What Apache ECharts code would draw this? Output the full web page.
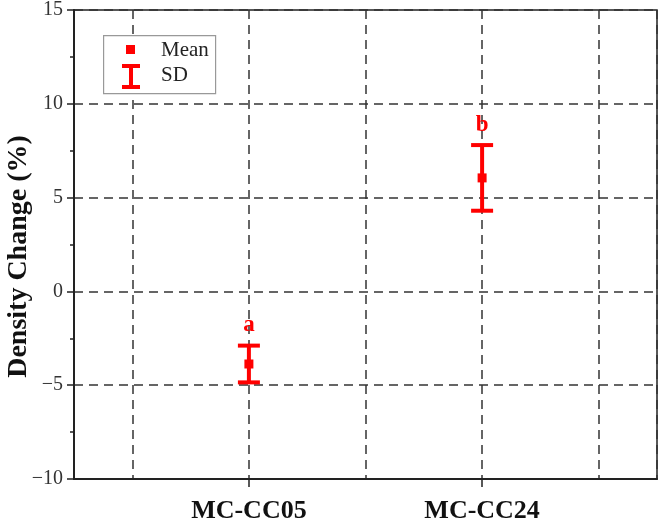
<!DOCTYPE html>
<html>
<head>
<meta charset="utf-8">
<script src="https://cdn.jsdelivr.net/npm/echarts@6/dist/echarts.min.js"></script>
<style>
    html, body { margin: 0; padding: 0; background: #fff; }
    #chart { width: 661px; height: 523px; }
</style>
</head>
<body>
<div id="chart"></div>
<script>
// groups and their x positions
const groups = ['MC-CC05', 'MC-CC24']
const groupPos = [1, 2]
// mean density change (%) and standard deviation
const means = [-3.87, 6.05]
const sds = [0.98, 1.75]
// significance letters
const letters = ['a', 'b']
// y tick labels
const yTicks = [-10, -5, 0, 5, 10, 15]

const RED = '#ff0000'
const FONT = '"Liberation Serif", "DejaVu Serif", serif'
const DASH = { color: '#333', width: 1.5, type: [9, 6] }

const meanData = groupPos.map((x, i) => [x, means[i]])
const barData = groupPos.map((x, i) => [x, means[i] - sds[i], means[i] + sds[i], i])

const chart = echarts.init(document.getElementById('chart'))

const option = {
    animation: false,
    grid: {
        left: 74,
        right: 4,
        top: 10,
        bottom: 44,
        containLabel: false,
        outerBoundsMode: 'none',
        show: true,
        borderColor: '#222',
        borderWidth: 1.5
    },
    xAxis: [
        {
            // grid lines every half step
            type: 'value',
            min: 0.25,
            max: 2.75,
            splitNumber: 5,
            axisLine: { show: false, onZero: false },
            axisTick: { show: false },
            axisLabel: { show: false },
            splitLine: { show: true, lineStyle: DASH }
        },
        {
            // ticks and labels only at the groups
            type: 'value',
            position: 'bottom',
            min: 0.25,
            max: 2.75,
            axisLine: { show: true, onZero: false, lineStyle: { color: '#222', width: 2 } },
            axisTick: {
                show: true,
                customValues: groupPos,
                length: 8,
                lineStyle: { color: '#222', width: 1.5 }
            },
            axisLabel: {
                customValues: groupPos,
                formatter: (v) => groups[groupPos.indexOf(v)] || '',
                color: '#111',
                fontFamily: FONT,
                fontWeight: 'bold',
                fontSize: 26,
                margin: 19
            },
            splitLine: { show: false }
        }
    ],
    yAxis: {
        type: 'value',
        min: yTicks[0],
        max: yTicks[yTicks.length - 1],
        interval: 5,
        name: 'Density Change (%)',
        nameLocation: 'middle',
        nameGap: 41,
        nameMoveOverlap: false,
        nameTextStyle: {
            fontFamily: FONT,
            fontWeight: 'bold',
            fontSize: 28,
            color: '#111',
            padding: [0, 24, 0, 0]
        },
        axisLine: { show: true, lineStyle: { color: '#222', width: 2 } },
        axisTick: { show: true, length: 7, lineStyle: { color: '#222', width: 1.5 } },
        minorTick: { show: true, splitNumber: 2, length: 4, lineStyle: { color: '#222', width: 1.5 } },
        axisLabel: {
            formatter: (v) => (v < 0 ? '\u2212' + Math.abs(v) : String(v)),
            color: '#333',
            fontFamily: FONT,
            fontSize: 20,
            margin: 11
        },
        splitLine: { show: true, lineStyle: DASH }
    },
    series: [
        {
            name: 'SD',
            type: 'custom',
            data: barData,
            encode: { x: 0, y: [1, 2] },
            z: 3,
            renderItem: (params, api) => {
                const x = api.value(0)
                const lo = api.coord([x, api.value(1)])
                const hi = api.coord([x, api.value(2)])
                const half = 11
                const style = { stroke: RED, lineWidth: 4 }
                return {
                    type: 'group',
                    children: [
                        { type: 'line', shape: { x1: lo[0], y1: lo[1], x2: hi[0], y2: hi[1] }, style },
                        { type: 'line', shape: { x1: hi[0] - half, y1: hi[1], x2: hi[0] + half, y2: hi[1] }, style },
                        { type: 'line', shape: { x1: lo[0] - half, y1: lo[1], x2: lo[0] + half, y2: lo[1] }, style },
                        {
                            type: 'text',
                            x: hi[0],
                            y: hi[1] - 9,
                            style: {
                                text: letters[api.value(3)],
                                fill: RED,
                                font: 'bold 23px ' + FONT,
                                align: 'center',
                                verticalAlign: 'bottom'
                            }
                        }
                    ]
                }
            }
        },
        {
            name: 'Mean',
            type: 'scatter',
            data: meanData,
            symbol: 'rect',
            symbolSize: 9,
            itemStyle: { color: RED, opacity: 1 },
            z: 4
        }
    ],
    graphic: [
        {
            type: 'rect',
            left: 103,
            top: 35,
            shape: { width: 112, height: 58 },
            style: { fill: '#fff', stroke: '#999', lineWidth: 1.2 },
            z: 10
        },
        {
            type: 'rect',
            left: 126,
            top: 45,
            shape: { width: 9, height: 9 },
            style: { fill: RED },
            z: 11
        },
        {
            type: 'line',
            shape: { x1: 122, y1: 66, x2: 140, y2: 66 },
            style: { stroke: RED, lineWidth: 4 },
            z: 11
        },
        {
            type: 'line',
            shape: { x1: 131, y1: 66, x2: 131, y2: 87 },
            style: { stroke: RED, lineWidth: 4 },
            z: 11
        },
        {
            type: 'line',
            shape: { x1: 122, y1: 87, x2: 140, y2: 87 },
            style: { stroke: RED, lineWidth: 4 },
            z: 11
        },
        {
            type: 'text',
            left: 161,
            top: 40,
            z: 11,
            style: { text: 'Mean', fill: '#222', font: '21px ' + FONT }
        },
        {
            type: 'text',
            left: 161,
            top: 65,
            z: 11,
            style: { text: 'SD', fill: '#222', font: '21px ' + FONT }
        }
    ]
}

chart.setOption(option)
</script>
</body>
</html>
